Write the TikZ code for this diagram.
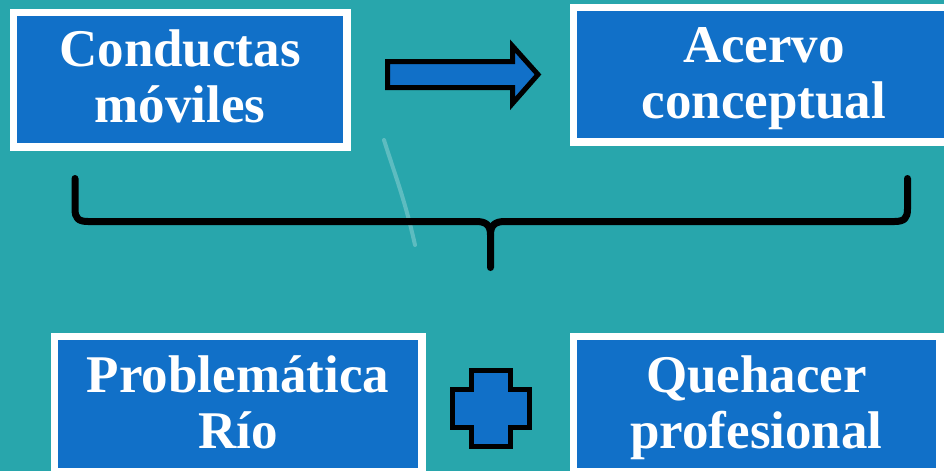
\documentclass[tikz,border=0pt]{standalone}
\usepackage{fontspec}
\setmainfont{Liberation Serif}
\usetikzlibrary{shadows}
\definecolor{bgteal}{RGB}{40,166,172}
\definecolor{boxblue}{RGB}{17,112,200}
\begin{document}
\begin{tikzpicture}[x=1pt,y=-1pt,
  card/.style={draw=white, line width=7.5pt, fill=boxblue, inner sep=0pt,
    drop shadow={shadow xshift=2pt, shadow yshift=-3pt, opacity=0.3}},
  lbl/.style={text=white, anchor=base, inner sep=0pt,
    font=\fontsize{53}{55}\selectfont\bfseries},
  blk/.style={draw=black, line width=5pt, fill=boxblue, line join=miter},
  bracestroke/.style={draw=black, line width=7pt, line cap=round, line join=round}
]
% background
\path[use as bounding box, fill=bgteal] (0,0) rectangle (944,471);
\draw[white, opacity=0.25, line width=4pt, line cap=round] (384,140) .. controls (395,175) and (405,200) .. (415,245);

% boxes
\node[card, minimum width=333.5pt, minimum height=134.5pt] (c1) at (180,79.5) {};
\node[card, minimum width=381.5pt, minimum height=134.5pt] (c2) at (764,74.5) {};
\node[card, minimum width=367.5pt, minimum height=135.5pt] (c3) at (238,404) {};
\node[card, minimum width=366.5pt, minimum height=135.5pt] (c4) at (756.5,404) {};

% texts
\node[lbl] (t1a) at (180,66) {Conductas};
\node[lbl] (t1b) at (180,122) {móviles};
\node[lbl] (t2a) at (764,62) {Acervo};
\node[lbl] (t2b) at (764,118) {conceptual};
\node[lbl] (t3a) at (238,392) {Problemática};
\node[lbl] (t3b) at (238,448) {Río};
\node[lbl] (t4a) at (756.5,392) {Quehacer};
\node[lbl] (t4b) at (756.5,448) {profesional};

% block arrow
\path[blk] (387.5,61.5) -- (512.5,61.5) -- (512.5,46) -- (538,74.5)
  -- (512.5,103.5) -- (512.5,87.5) -- (387.5,87.5) -- cycle;

% plus sign
\path[blk] (471.5,370.5) -- (510.5,370.5) -- (510.5,389.5) -- (529.5,389.5)
  -- (529.5,427.5) -- (510.5,427.5) -- (510.5,446.5) -- (471.5,446.5)
  -- (471.5,427.5) -- (452.5,427.5) -- (452.5,389.5) -- (471.5,389.5) -- cycle;

% curly brace
\coordinate (bl) at (75,178.5);
\coordinate (br) at (907.5,178.5);
\coordinate (bm) at (490.5,267.5);
\draw[bracestroke] (bl) -- (75,209) .. controls (75,218) and (78,221.5) .. (88,221.5)
  -- (476,221.5) .. controls (486,221.5) and (490.5,225) .. (490.5,235) -- (bm);
\draw[bracestroke] (br) -- (907.5,209) .. controls (907.5,218) and (904.5,221.5) .. (894.5,221.5)
  -- (505,221.5) .. controls (495,221.5) and (490.5,225) .. (490.5,235);
\end{tikzpicture}
\end{document}
